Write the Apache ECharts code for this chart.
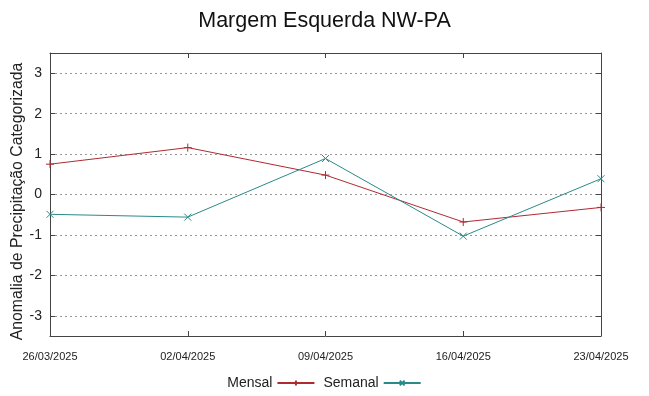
<!DOCTYPE html>
<html>
<head>
<meta charset="utf-8">
<script src="https://cdn.jsdelivr.net/npm/echarts@6/dist/echarts.min.js"></script>
<style>
html, body { margin: 0; padding: 0; background: #fff; }
#chart { width: 649px; height: 396px; }
</style>
</head>
<body>
<div id="chart"></div>
<script>
// dados
var datas = ['26/03/2025', '02/04/2025', '09/04/2025', '16/04/2025', '23/04/2025'];
var mensal = [0.75, 1.16, 0.48, -0.68, -0.32];
var semanal = [-0.49, -0.56, 0.89, -1.03, 0.39];
var yTicks = [-3, -2, -1, 0, 1, 2, 3];

var corMensal = '#b02a32';
var corSemanal = '#2a8a8a';
var corEixo = '#444';
var simboloMais = 'path://M0,5L10,5M5,0L5,10';
var simboloX = 'path://M0,0L10,10M10,0L0,10';

var chart = echarts.init(document.getElementById('chart'));

function eixoY(pos, mostraLabel) {
	return {
		type: 'value',
		position: pos,
		min: -3.5,
		max: 3.5,
		interval: 0.5,
		name: mostraLabel ? 'Anomalia de Precipitação Categorizada' : '',
		nameLocation: 'middle',
		nameGap: 24,
		nameMoveOverlap: false,
		nameTextStyle: { fontFamily: 'Liberation Sans', fontSize: 15.8, color: '#222', padding: [0, 14, 0, 0] },
		axisLine: { show: true, lineStyle: { color: corEixo, width: 1 } },
		axisTick: { show: true, inside: true, length: 5, customValues: yTicks, lineStyle: { color: corEixo } },
		axisLabel: {
			show: mostraLabel,
			customValues: yTicks,
			margin: 8,
			fontFamily: 'Liberation Sans',
			fontSize: 14,
			color: '#222'
		},
		splitLine: {
			show: mostraLabel,
			lineStyle: { color: '#999', type: [2, 3], width: 1 }
		}
	};
}

function eixoX(pos, mostraLabel) {
	return {
		type: 'category',
		position: pos,
		data: datas,
		boundaryGap: false,
		axisLine: { show: true, onZero: false, lineStyle: { color: corEixo, width: 1 } },
		axisTick: { show: true, inside: true, length: 5, alignWithLabel: true, lineStyle: { color: corEixo } },
		axisLabel: {
			show: mostraLabel,
			margin: 15,
			interval: 0,
			fontFamily: 'Liberation Sans',
			fontSize: 11,
			color: '#222'
		},
		splitLine: { show: false }
	};
}

var option = {
	backgroundColor: '#fff',
	animation: false,
	title: {
		text: 'Margem Esquerda NW-PA',
		left: 'center',
		top: 5,
		textStyle: { fontFamily: 'Liberation Sans', fontSize: 21.5, fontWeight: 'normal', color: '#111' }
	},
	legend: {
		bottom: 1,
		left: 'center',
		align: 'right',
		itemWidth: 37,
		itemHeight: 6,
		itemGap: 8,
		textStyle: { fontFamily: 'Liberation Sans', fontSize: 14, color: '#222' },
		data: ['Mensal', 'Semanal']
	},
	grid: { left: 50, right: 48, top: 53, bottom: 60, outerBoundsMode: 'none' },
	xAxis: [eixoX('bottom', true), eixoX('top', false)],
	yAxis: [eixoY('left', true), eixoY('right', false)],
	series: [
		{
			name: 'Mensal',
			type: 'line',
			data: mensal,
			symbol: simboloMais,
			symbolSize: 8,
			lineStyle: { color: corMensal, width: 1 },
			itemStyle: { color: corMensal, borderColor: corMensal, borderWidth: 1 }
		},
		{
			name: 'Semanal',
			type: 'line',
			data: semanal,
			symbol: simboloX,
			symbolSize: 7,
			lineStyle: { color: corSemanal, width: 1 },
			itemStyle: { color: corSemanal, borderColor: corSemanal, borderWidth: 1 }
		}
	]
};

chart.setOption(option);
</script>
</body>
</html>
